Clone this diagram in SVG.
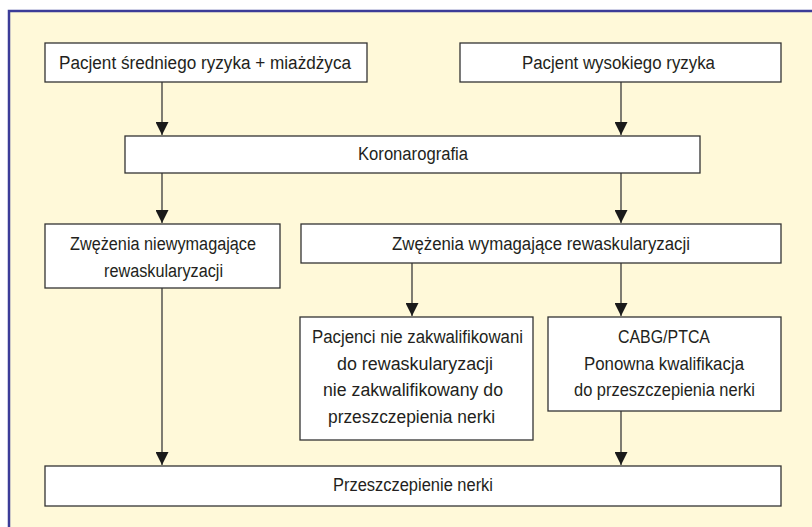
<svg xmlns="http://www.w3.org/2000/svg" width="812" height="527" viewBox="0 0 812 527">
<defs>
<style>
.bg{fill:#FFF9D9;stroke:none}
.frame{fill:none;stroke:#3B3C98;stroke-width:2.5}
.box{fill:#FFFFFF;stroke:#333333;stroke-width:1.3}
.t{font-family:"Liberation Sans Narrow","Arial Narrow","Liberation Sans",sans-serif;font-size:18px;fill:#231F20;text-anchor:middle}
.c{stroke:#3a3a3a;stroke-width:1.3;fill:none;marker-end:url(#ah)}
</style>
<marker id="ah" viewBox="0 0 13 13" refX="13" refY="6.5" markerWidth="13" markerHeight="13" markerUnits="userSpaceOnUse" orient="auto">
<path d="M0,0 L13,6.5 L0,13 Z" fill="#1a1a1a"/>
</marker>
</defs>
<rect class="bg" x="9" y="11" width="803" height="516"/>
<path class="frame" d="M9,527 L9,11 L812,11"/>
<g id="connectors">
<line class="c" x1="162" y1="82" x2="162" y2="135"/>
<line class="c" x1="621" y1="82" x2="621" y2="135"/>
<line class="c" x1="162" y1="173" x2="162" y2="223"/>
<line class="c" x1="621" y1="173" x2="621" y2="223"/>
<line class="c" x1="412" y1="263" x2="412" y2="316"/>
<line class="c" x1="621" y1="263" x2="621" y2="316"/>
<line class="c" x1="162" y1="288" x2="162" y2="465"/>
<line class="c" x1="621" y1="411" x2="621" y2="465"/>
</g>
<g id="n1"><rect class="box" x="45" y="43" width="322" height="39"/><text class="t" x="205" y="69" textLength="292" lengthAdjust="spacingAndGlyphs">Pacjent średniego ryzyka + miażdżyca</text></g>
<g id="n2"><rect class="box" x="460" y="43" width="321" height="39"/><text class="t" x="618.5" y="69" textLength="193" lengthAdjust="spacingAndGlyphs">Pacjent wysokiego ryzyka</text></g>
<g id="n3"><rect class="box" x="125" y="136" width="575" height="37"/><text class="t" x="413" y="160" textLength="110" lengthAdjust="spacingAndGlyphs">Koronarografia</text></g>
<g id="n4"><rect class="box" x="45" y="224" width="235" height="64"/><text class="t" x="163" y="250" textLength="186" lengthAdjust="spacingAndGlyphs">Zwężenia niewymagające</text><text class="t" x="163.5" y="277" textLength="119" lengthAdjust="spacingAndGlyphs">rewaskularyzacji</text></g>
<g id="n5"><rect class="box" x="301" y="224" width="480" height="39"/><text class="t" x="541" y="250" textLength="298" lengthAdjust="spacingAndGlyphs">Zwężenia wymagające rewaskularyzacji</text></g>
<g id="n6"><rect class="box" x="300" y="317" width="233" height="123"/><text class="t" x="417.5" y="343" textLength="211" lengthAdjust="spacingAndGlyphs">Pacjenci nie zakwalifikowani</text><text class="t" x="415" y="370" textLength="156" lengthAdjust="spacingAndGlyphs">do rewaskularyzacji</text><text class="t" x="413" y="396" textLength="180" lengthAdjust="spacingAndGlyphs">nie zakwalifikowany do</text><text class="t" x="411.5" y="423" textLength="167" lengthAdjust="spacingAndGlyphs">przeszczepienia nerki</text></g>
<g id="n7"><rect class="box" x="548" y="317" width="233" height="94"/><text class="t" x="664" y="343" textLength="92" lengthAdjust="spacingAndGlyphs">CABG/PTCA</text><text class="t" x="664" y="370" textLength="160" lengthAdjust="spacingAndGlyphs">Ponowna kwalifikacja</text><text class="t" x="664.5" y="396" textLength="181" lengthAdjust="spacingAndGlyphs">do przeszczepienia nerki</text></g>
<g id="n8"><rect class="box" x="45" y="466" width="736" height="40"/><text class="t" x="413" y="491" textLength="160" lengthAdjust="spacingAndGlyphs">Przeszczepienie nerki</text></g>
</svg>
